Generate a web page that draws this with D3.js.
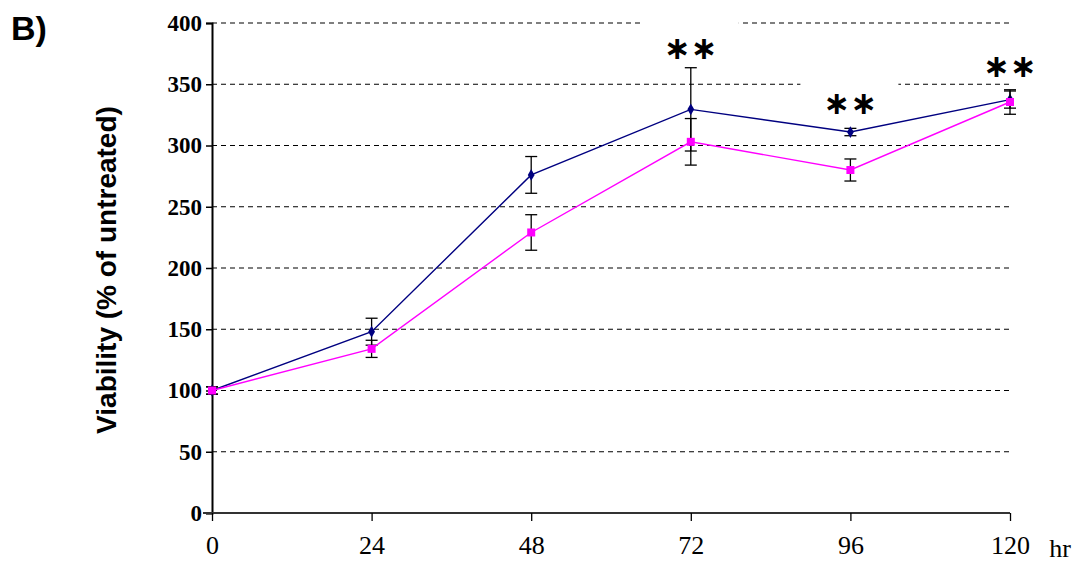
<!DOCTYPE html>
<html>
<head>
<meta charset="utf-8">
<script src="https://cdn.jsdelivr.net/npm/d3@7"></script>
<style>
  body { margin: 0; background: #fff; }
  svg { display: block; }
</style>
</head>
<body>
<div id="chart"></div>
<script>
// data
var hours = [0, 24, 48, 72, 96, 120];
var navyMean = [100, 148, 276, 329.5, 311, 337.5];
var navyErr = [3, 11, 15, 34, 3, 7];
var pinkMean = [100, 134, 229, 303, 280, 335.5];
var pinkErr = [3, 7, 14.5, 19, 9, 10];
var yTicks = [0, 50, 100, 150, 200, 250, 300, 350, 400];
var starHours = [72, 96, 120];
var starValues = [371, 326, 356];
// grid lines the star labels cut through (0 = none)
var starGridCut = [400, 350, 0];

var svgWidth = 1083, svgHeight = 565;
var margin = { top: 23, right: 73, bottom: 52, left: 212 };
var width = svgWidth - margin.left - margin.right;
var height = svgHeight - margin.top - margin.bottom;

var svg = d3.select("#chart").append("svg")
    .attr("width", svgWidth)
    .attr("height", svgHeight);

var x = d3.scaleLinear().domain([0, 120]).range([0, width]);
var y = d3.scaleLinear().domain([0, 400]).range([height, 0]);

var g = svg.append("g")
    .attr("transform", "translate(" + margin.left + "," + margin.top + ")");

// dashed grid
g.append("g").selectAll("line")
    .data(yTicks.filter(function (d) { return d > 0; }))
    .enter().append("line")
    .attr("x1", 0).attr("x2", width)
    .attr("y1", function (d) { return y(d); })
    .attr("y2", function (d) { return y(d); })
    .attr("stroke", "#000")
    .attr("stroke-width", 1.2)
    .attr("stroke-dasharray", "5,4");

// white boxes behind the asterisks (they cut the grid in the original)
g.append("g").selectAll("rect")
    .data(starHours.filter(function (d, i) { return starGridCut[i] > 0; }))
    .enter().append("rect")
    .attr("x", function (d) { return x(d) - 50; })
    .attr("y", function (d, i) { return y(starGridCut[i]) - 5; })
    .attr("width", 98)
    .attr("height", 10)
    .attr("fill", "#fff");

// y axis
var yAxis = d3.axisLeft(y).tickValues(yTicks).tickSize(6).tickPadding(4);
var ya = g.append("g").call(yAxis);
ya.select(".domain").attr("stroke", "#000").attr("stroke-width", 2);
ya.selectAll(".tick line").attr("stroke", "#000").attr("stroke-width", 1.5);
ya.selectAll(".tick text")
    .attr("font-family", "'Liberation Serif', 'Times New Roman', serif")
    .attr("font-weight", "bold")
    .attr("font-size", 23)
    .attr("fill", "#000");

// x axis
var xAxis = d3.axisBottom(x).tickValues(hours).tickSize(8).tickPadding(15);
var xa = g.append("g")
    .attr("transform", "translate(0," + height + ")")
    .call(xAxis);
xa.select(".domain").attr("stroke", "#333").attr("stroke-width", 2.2)
    .attr("d", "M-9,0H" + width);
xa.selectAll(".tick line").attr("stroke", "#000").attr("stroke-width", 1.3);
xa.selectAll(".tick text")
    .attr("font-family", "'Liberation Serif', 'Times New Roman', serif")
    .attr("font-size", 26)
    .attr("fill", "#000");

g.append("text")
    .attr("x", x(120) + 50)
    .attr("y", height + 44)
    .attr("text-anchor", "middle")
    .attr("font-family", "'Liberation Serif', 'Times New Roman', serif")
    .attr("font-size", 26)
    .text("hr");

// series
function drawSeries(means, errs, color, marker) {
    var pts = hours.map(function (h, i) { return { h: h, v: means[i], e: errs[i] }; });
    var line = d3.line()
        .x(function (d) { return x(d.h); })
        .y(function (d) { return y(d.v); });
    g.append("path")
        .datum(pts)
        .attr("d", line)
        .attr("fill", "none")
        .attr("stroke", color)
        .attr("stroke-width", 1.4);

    var eb = g.append("g").selectAll("g")
        .data(pts).enter().append("g")
        .attr("stroke", "#000")
        .attr("stroke-width", 1.3);
    eb.append("line")
        .attr("x1", function (d) { return x(d.h); })
        .attr("x2", function (d) { return x(d.h); })
        .attr("y1", function (d) { return y(d.v + d.e); })
        .attr("y2", function (d) { return y(d.v - d.e); });
    [1, -1].forEach(function (s) {
        eb.append("line")
            .attr("x1", function (d) { return x(d.h) - 6; })
            .attr("x2", function (d) { return x(d.h) + 6; })
            .attr("y1", function (d) { return y(d.v + s * d.e); })
            .attr("y2", function (d) { return y(d.v + s * d.e); });
    });

    var sym = marker == "square" ? d3.symbolSquare : d3.symbolDiamond;
    var size = marker == "square" ? 64 : 40;
    g.append("g").selectAll("path")
        .data(pts).enter().append("path")
        .attr("transform", function (d) { return "translate(" + x(d.h) + "," + y(d.v) + ")"; })
        .attr("d", d3.symbol().type(sym).size(size))
        .attr("fill", color);
}

drawSeries(navyMean, navyErr, "#000080", "diamond");
drawSeries(pinkMean, pinkErr, "#ff00ff", "square");

// significance stars
g.append("g").selectAll("text")
    .data(starHours)
    .enter().append("text")
    .attr("x", function (d) { return x(d); })
    .attr("y", function (d, i) { return y(starValues[i]); })
    .attr("text-anchor", "middle")
    .attr("font-family", "'DejaVu Sans', sans-serif")
    .attr("font-weight", "bold")
    .attr("font-size", 32)
    .text("\u2217\u2217");

// y title
svg.append("text")
    .attr("transform", "translate(116," + (margin.top + height / 2 + 2) + ") rotate(-90)")
    .attr("text-anchor", "middle")
    .attr("font-family", "'Liberation Sans', Arial, sans-serif")
    .attr("font-weight", "bold")
    .attr("font-size", 28)
    .text("Viability (% of untreated)");

// panel letter
svg.append("text")
    .attr("x", 11)
    .attr("y", 40)
    .attr("font-family", "'Liberation Sans', Arial, sans-serif")
    .attr("font-weight", "bold")
    .attr("font-size", 34)
    .text("B)");
</script>
</body>
</html>
